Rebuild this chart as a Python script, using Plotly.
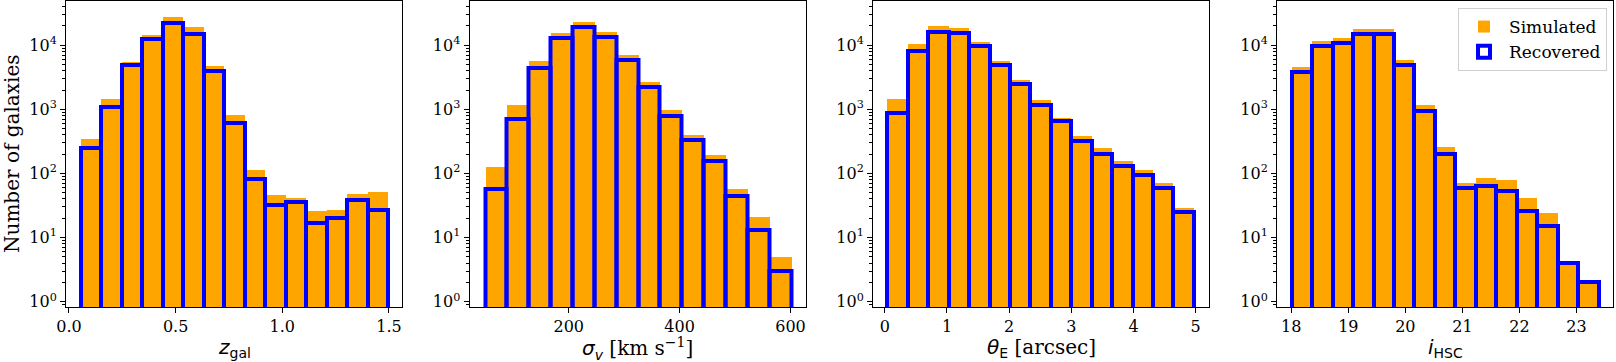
import numpy as np
import plotly.graph_objects as go

# ---- data ----
# bin ranges (lo, hi) and number of bins for each panel
z_bins = (0.056, 1.497, 15)
sig_bins = (49.0, 601.0, 14)
theta_bins = (0.043, 4.97, 15)
i_bins = (18.006, 23.39, 15)

z_sim = [339, 1440, 5500, 14500, 27400, 19000, 4800, 810, 112, 46, 41, 26, 27, 48, 51]
z_rec = [250, 1090, 5000, 12300, 22500, 15000, 3900, 620, 83, 32, 36, 17, 20, 38, 27]

sig_sim = [124, 1150, 5600, 15800, 22800, 16300, 6960, 2680, 970, 400, 194, 57, 21, 5]
sig_rec = [57, 710, 4350, 13100, 19300, 13500, 5800, 2240, 790, 335, 155, 44, 13, 3]

theta_sim = [1450, 10400, 19800, 18300, 11400, 5760, 2830, 1380, 745, 380, 248, 154, 114, 71, 29]
theta_rec = [885, 8200, 16300, 15400, 9600, 5000, 2490, 1150, 655, 325, 200, 132, 95, 60, 25]

i_sim = [4550, 11800, 13000, 17900, 17900, 5840, 1150, 255, 72, 84, 79, 41, 24, 4, 2]
i_rec = [3800, 9800, 10900, 15100, 15100, 4900, 955, 203, 59, 64, 54, 26, 15, 4, 2]

x_ranges = [(-0.014, 1.561), (21.0, 627.0), (-0.19, 5.215), (17.75, 23.64)]
x_ticks = [[0.0, 0.5, 1.0, 1.5], [200, 400, 600], [0, 1, 2, 3, 4, 5], [18, 19, 20, 21, 22, 23]]
x_ticktext = [["0.0", "0.5", "1.0", "1.5"], ["200", "400", "600"],
              ["0", "1", "2", "3", "4", "5"], ["18", "19", "20", "21", "22", "23"]]

SANS = 'style="font-family:DejaVu Sans"'
x_labels = [
    f'<span {SANS}><i>z</i><sub>gal</sub></span>',
    f'<span {SANS}><i>σ</i><sub><i>v</i></sub></span> [km s<sup>−1</sup>]',
    f'<span {SANS}><i>θ</i><sub>E</sub></span> [arcsec]',
    f'<span {SANS}><i>i</i><sub>HSC</sub></span>',
]
y_label = "Number of galaxies"
y_tickvals = [1, 10, 100, 1000, 10000]
y_ticktext = ["10<sup>0</sup>", "10<sup>1</sup>", "10<sup>2</sup>", "10<sup>3</sup>", "10<sup>4</sup>"]

ORANGE = "#FFA500"
BLUE = "#0000FF"
SERIF = "DejaVu Serif"

panels = [
    (z_bins, z_sim, z_rec),
    (sig_bins, sig_sim, sig_rec),
    (theta_bins, theta_sim, theta_rec),
    (i_bins, i_sim, i_rec),
]

# ---- layout geometry (pixels) ----
FIG_W, FIG_H = 1616, 362
ML, MR, MT, MB = 66, 3, 1, 55
PW = FIG_W - ML - MR
PH = FIG_H - MT - MB
lefts = [66, 469.5, 873, 1277]
pan_w = 336


def px_to_paper_x(px):
    return (px - ML) / PW


def py_to_paper_y(py):
    return (FIG_H - MB - py) / PH


fig = go.Figure()

for k, ((lo, hi, nb), sim, rec) in enumerate(panels):
    edges = np.linspace(lo, hi, nb + 1)
    centers = 0.5 * (edges[:-1] + edges[1:])
    width = edges[1] - edges[0]
    xa = "x" if k == 0 else f"x{k+1}"
    ya = "y" if k == 0 else f"y{k+1}"
    fig.add_trace(go.Bar(
        x=centers, y=sim, width=width, xaxis=xa, yaxis=ya,
        marker=dict(color=ORANGE, line=dict(width=0)),
        name="Simulated", showlegend=(k == 3), legendrank=1,
    ))
    fig.add_trace(go.Bar(
        x=centers, y=rec, width=width, xaxis=xa, yaxis=ya,
        marker=dict(color="rgba(255,255,255,0)", line=dict(color=BLUE, width=4)),
        name="Recovered", showlegend=(k == 3), legendrank=2,
    ))

layout = dict(
    width=FIG_W, height=FIG_H,
    margin=dict(l=ML, r=MR, t=MT, b=MB, pad=0),
    plot_bgcolor="white", paper_bgcolor="white",
    barmode="overlay", bargap=0,
    font=dict(family=SERIF, size=16, color="black"),
    showlegend=True,
    legend=dict(
        x=px_to_paper_x(1607), y=py_to_paper_y(8), xanchor="right", yanchor="top",
        bgcolor="white", bordercolor="#d0d0d0", borderwidth=1,
        font=dict(family=SERIF, size=17, color="black"),
        itemwidth=40, tracegroupgap=0,
    ),
)

annotations = []
for k in range(4):
    sfx = "" if k == 0 else str(k + 1)
    d0 = px_to_paper_x(lefts[k])
    d1 = px_to_paper_x(lefts[k] + pan_w)
    layout["xaxis" + sfx] = dict(
        domain=[d0, d1], range=list(x_ranges[k]), anchor="y" + sfx,
        tickvals=x_ticks[k], ticktext=x_ticktext[k],
        ticks="outside", ticklen=5, tickwidth=1, tickcolor="black",
        showline=True, linecolor="black", linewidth=1, mirror=True,
        showgrid=False, zeroline=False,
        tickfont=dict(family=SERIF, size=16, color="black"),
    )
    layout["yaxis" + sfx] = dict(
        type="log", range=[-0.083, 4.69], anchor="x" + sfx,
        tickvals=y_tickvals, ticktext=y_ticktext,
        ticks="outside", ticklen=5, tickwidth=1, tickcolor="black",
        minor=dict(ticks="outside", ticklen=3, tickwidth=1, tickcolor="black", dtick="D1", showgrid=False),
        showline=True, linecolor="black", linewidth=1, mirror=True,
        showgrid=False, zeroline=False,
        tickfont=dict(family=SERIF, size=16, color="black"),
    )
    annotations.append(dict(
        text=x_labels[k], xref="paper", yref="paper",
        x=px_to_paper_x(lefts[k] + pan_w / 2), y=py_to_paper_y(348),
        xanchor="center", yanchor="middle", showarrow=False,
        font=dict(family=SERIF, size=20, color="black"),
    ))

annotations.append(dict(
    text=y_label, xref="paper", yref="paper",
    x=px_to_paper_x(12), y=0.5, xanchor="center", yanchor="middle",
    textangle=-90, showarrow=False,
    font=dict(family=SERIF, size=20, color="black"),
))
layout["annotations"] = annotations

fig.update_layout(**layout)
fig.write_html(
    "out.html",
    config={"displayModeBar": False},
    post_script="document.body.style.margin='0';document.body.style.overflow='hidden';",
)
